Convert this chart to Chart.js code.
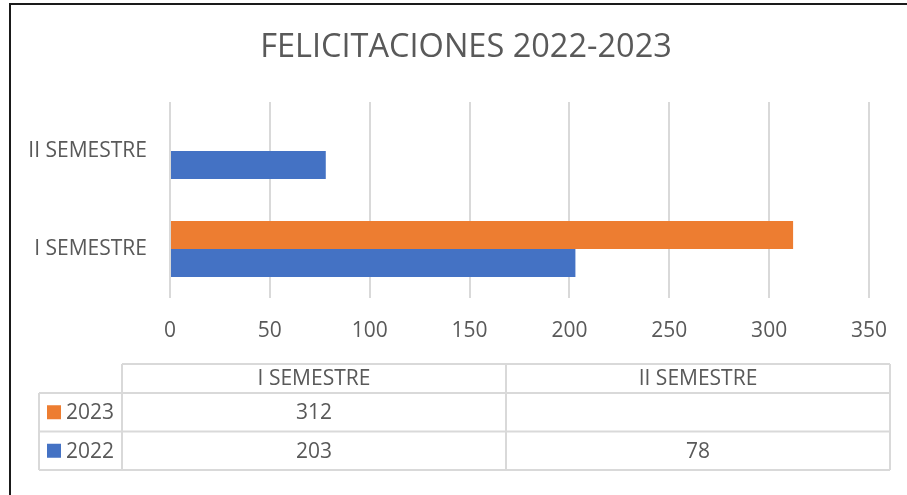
<!DOCTYPE html>
<html>
<head>
<meta charset="utf-8">
<script src="https://cdn.jsdelivr.net/npm/chart.js@4/dist/chart.umd.min.js"></script>
<style>
    html, body { margin: 0; padding: 0; background: #ffffff; }
    canvas { display: block; }
</style>
</head>
<body>
<canvas id="felicitaciones" width="907" height="495"></canvas>
<script>
var categories = ['I SEMESTRE', 'II SEMESTRE'];
var seriesNames = ['2023', '2022'];
var values2023 = [312, null];
var values2022 = [203, 78];
var seriesColors = ['#ED7D31', '#4472C4'];
var chartTitle = 'FELICITACIONES 2022-2023';

(function () {
    var FONT = "'Open Sans', sans-serif";
    var TEXT = '#595959';
    var LINE = '#D9D9D9';
    var seriesValues = [values2023, values2022];

    // frame lines of the cropped Excel screenshot + title (centred on the
    // original, wider chart frame, so not on the canvas)
    var framePlugin = {
        id: 'frame',
        beforeDraw: function (chart) {
            var ctx = chart.ctx;
            ctx.save();
            ctx.fillStyle = '#ffffff';
            ctx.fillRect(0, 0, chart.width, chart.height);
            ctx.strokeStyle = '#1a1a1a';
            ctx.lineWidth = 2;
            ctx.beginPath();
            ctx.moveTo(10, chart.height);
            ctx.lineTo(10, 4);
            ctx.lineTo(chart.width, 4);
            ctx.stroke();

            ctx.fillStyle = TEXT;
            ctx.font = '32.5px ' + FONT;
            ctx.textAlign = 'center';
            ctx.textBaseline = 'middle';
            ctx.fillText(chartTitle, 466, 48);
            ctx.restore();
        }
    };

    // Excel style data table under the axis
    var dataTablePlugin = {
        id: 'dataTable',
        afterDraw: function (chart) {
            var ctx = chart.ctx;
            var left = 39, keyRight = 122, right = 890;
            var colW = (right - keyRight) / categories.length;
            var top = 364, headH = 29, rowH = 38.5;
            var bottom = top + headH + rowH * seriesNames.length;

            ctx.save();
            ctx.strokeStyle = LINE;
            ctx.lineWidth = 2;
            ctx.beginPath();
            // header row
            ctx.moveTo(keyRight, top); ctx.lineTo(right, top);
            for (var r = 0; r <= seriesNames.length; r++) {
                var y = top + headH + r * rowH;
                ctx.moveTo(left, y); ctx.lineTo(right, y);
            }
            ctx.moveTo(left, top + headH); ctx.lineTo(left, bottom);
            for (var c = 0; c <= categories.length; c++) {
                var x = keyRight + c * colW;
                ctx.moveTo(x, top); ctx.lineTo(x, bottom);
            }
            ctx.stroke();

            ctx.fillStyle = TEXT;
            ctx.font = '21px ' + FONT;
            ctx.textAlign = 'center';
            ctx.textBaseline = 'middle';
            categories.forEach(function (cat, i) {
                ctx.fillText(cat, keyRight + colW * (i + 0.5), top + headH / 2 + 1);
            });

            seriesNames.forEach(function (name, s) {
                var cy = top + headH + rowH * (s + 0.5);
                ctx.fillStyle = seriesColors[s];
                ctx.fillRect(47, cy - 7, 14, 14);
                ctx.fillStyle = TEXT;
                ctx.textAlign = 'left';
                ctx.fillText(name, 66, cy + 1);
                ctx.textAlign = 'center';
                seriesValues[s].forEach(function (v, i) {
                    if (v === null || v === undefined) {
                        return;
                    }
                    ctx.fillText(String(v), keyRight + colW * (i + 0.5), cy + 1);
                });
            });
            ctx.restore();
        }
    };

    new Chart(document.getElementById('felicitaciones'), {
        type: 'bar',
        data: {
            labels: categories,
            datasets: seriesNames.map(function (name, s) {
                return {
                    label: name,
                    data: seriesValues[s],
                    backgroundColor: seriesColors[s],
                    borderWidth: 0,
                    categoryPercentage: 0.57,
                    barPercentage: 1.0
                };
            })
        },
        options: {
            indexAxis: 'y',
            responsive: false,
            animation: false,
            layout: {
                padding: { left: 0, top: 102, right: 35, bottom: 137 }
            },
            scales: {
                x: {
                    min: 0,
                    max: 350,
                    ticks: {
                        stepSize: 50,
                        color: TEXT,
                        padding: 20,
                        font: { family: FONT, size: 21 }
                    },
                    grid: { color: LINE, lineWidth: 2, drawTicks: false },
                    border: { display: false },
                    afterFit: function (scale) { scale.height = 60; }
                },
                y: {
                    reverse: true,
                    ticks: {
                        color: TEXT,
                        padding: 23,
                        font: { family: FONT, size: 21 }
                    },
                    grid: { display: false, drawTicks: false },
                    border: { display: false },
                    afterFit: function (scale) { scale.width = 170; }
                }
            },
            plugins: {
                legend: { display: false },
                tooltip: { enabled: false },
                title: { display: false }
            }
        },
        plugins: [framePlugin, dataTablePlugin]
    });
})();
</script>
</body>
</html>
